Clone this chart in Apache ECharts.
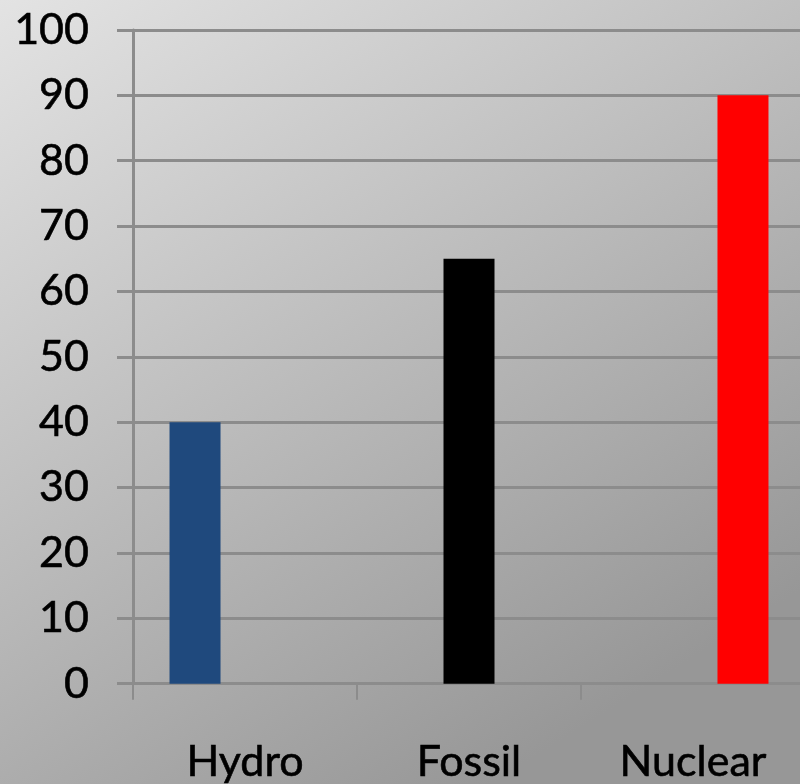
<!DOCTYPE html>
<html>
<head>
<meta charset="utf-8">
<style>
  html, body { margin: 0; padding: 0; background: #c8c8c8; overflow: hidden; }
  #chart { width: 820px; height: 784px; }
</style>
<script src="https://cdn.jsdelivr.net/npm/echarts@6/dist/echarts.min.js"></script>
</head>
<body>
<div id="chart"></div>
<script>
// Energy sources and their values
const categories = ['Hydro', 'Fossil', 'Nuclear'];
const hydroValues = [40, null, null];
const fossilValues = [null, 65, null];
const nuclearValues = [null, null, 90];
const seriesColors = ['#1f497d', '#000000', '#ff0000'];

const axisGray = '#8c8c8c';
const labelFont = 'Lato, "Open Sans", "DejaVu Sans", sans-serif';

const chart = echarts.init(document.getElementById('chart'), null, { renderer: 'canvas' });

function barSeries(name, data, color) {
  return {
    name: name,
    type: 'bar',
    data: data,
    barWidth: 51,
    barGap: '-2%',
    itemStyle: { color: color },
    emphasis: { disabled: true }
  };
}

const labelStyle = {
  color: '#000',
  fontFamily: labelFont,
  fontSize: 43,
  textBorderColor: '#000',
  textBorderWidth: 0.6
};

chart.setOption({
  animation: false,
  backgroundColor: {
    type: 'linear', x: 0, y: 0, x2: 0.6, y2: 1,
    colorStops: [
      { offset: 0, color: '#e3e3e3' },
      { offset: 1, color: '#979797' }
    ]
  },
  // plot area runs slightly past the right edge of the visible 800px window
  grid: { left: 133, right: 15, top: 30, bottom: 100, containLabel: false },
  xAxis: {
    type: 'category',
    data: categories,
    axisLine: { show: true, lineStyle: { color: axisGray, width: 3 } },
    axisTick: { show: true, length: 16, alignWithLabel: false, lineStyle: { color: axisGray, width: 2 } },
    axisLabel: Object.assign({ margin: 57, interval: 0 }, labelStyle),
    splitLine: { show: false }
  },
  yAxis: {
    type: 'value',
    min: 0,
    max: 100,
    interval: 10,
    axisLine: { show: true, lineStyle: { color: axisGray, width: 3 } },
    axisTick: { show: true, length: 16, inside: false, lineStyle: { color: axisGray, width: 3 } },
    axisLabel: Object.assign({ margin: 44 }, labelStyle),
    splitLine: { show: true, lineStyle: { color: axisGray, width: 3 } }
  },
  series: [
    barSeries('Hydro', hydroValues, seriesColors[0]),
    barSeries('Fossil', fossilValues, seriesColors[1]),
    barSeries('Nuclear', nuclearValues, seriesColors[2])
  ]
});
</script>
</body>
</html>
